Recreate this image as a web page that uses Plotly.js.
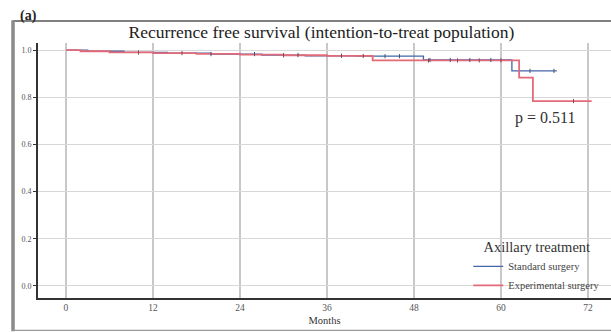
<!DOCTYPE html>
<html><head><meta charset="utf-8">
<script src="https://cdn.plot.ly/plotly-3.0.1.min.js"></script>
<style>html,body{margin:0;padding:0;background:#fff}#c{width:611px;height:332px}</style>
</head><body><div id="c"></div>
<script>
// Kaplan-Meier step data (months, survival)
const stdTimes = [0, 3, 8, 14, 20, 27, 33, 40, 49.3, 61.5, 67.7];
const stdSurv  = [1.0, 0.995, 0.99, 0.987, 0.983, 0.979, 0.976, 0.974, 0.958, 0.912, 0.912];
const expTimes = [0, 2, 6, 12, 18, 24, 30, 36, 42.3, 62.5, 64.4, 72.5];
const expSurv  = [1.0, 0.995, 0.99, 0.987, 0.984, 0.981, 0.978, 0.975, 0.956, 0.883, 0.784, 0.784];
const stdCensor = [20, 26, 32, 38, 44, 46, 50.2, 53, 55.7, 58.6, 64, 67.3];
const expCensor = [10, 16, 30, 41, 50, 54, 57, 60, 70];
const xTicks = [0, 12, 24, 36, 48, 60, 72];
const yTicks = [0.0, 0.2, 0.4, 0.6, 0.8, 1.0];
const seriesNames = ["Standard surgery", "Experimental surgery"];
const pLabel = "p = 0.511";

function stepAt(ts, vs, t){ let v = vs[0]; for(let i=0;i<ts.length;i++){ if(ts[i]<=t) v=vs[i]; } return v; }

const blue = "#4466aa", red = "#e36a78";
const serif = "Liberation Serif, Times New Roman, serif";

const traces = [
  {x: stdTimes, y: stdSurv, mode: "lines", line: {shape: "hv", color: blue, width: 1.3}, name: seriesNames[0]},
  {x: expTimes, y: expSurv, mode: "lines", line: {shape: "hv", color: red, width: 1.8}, name: seriesNames[1]},
  {x: stdCensor, y: stdCensor.map(t=>stepAt(stdTimes,stdSurv,t)), mode: "markers", showlegend: false,
   marker: {symbol: "line-ns", size: 3, line: {color: "#445577", width: 1}}},
  {x: expCensor, y: expCensor.map(t=>stepAt(expTimes,expSurv,t)), mode: "markers", showlegend: false,
   marker: {symbol: "line-ns", size: 3, line: {color: "#884455", width: 1}}}
];

const layout = {
  width: 611, height: 332,
  margin: {l: 38, r: 0, t: 43, b: 34},
  paper_bgcolor: "#fff", plot_bgcolor: "#fff",
  font: {family: serif, color: "#333"},
  title: {text: "Recurrence free survival (intention-to-treat population)", font: {size: 17.5, family: serif, color: "#222"},
          x: 0.526, xanchor: "center", y: 0.905, yanchor: "middle"},
  xaxis: {range: [-3.86, 75.17], tickvals: xTicks, ticktext: xTicks.map(String), ticks: "",
          showgrid: true, gridcolor: "#c8c8c8", gridwidth: 2.5, zeroline: false,
          showline: true, linecolor: "#333", linewidth: 2, tickfont: {size: 9.5, color: "#555"},
          title: {text: "Months", font: {size: 10.5, color: "#333"}, standoff: 4}},
  yaxis: {range: [-0.051, 1.03], tickvals: yTicks, ticktext: yTicks.map(v=>v.toFixed(1)), ticks: "outside", ticklen: 3,
          tickcolor: "#333", showgrid: true, gridcolor: "#d8d8d8", gridwidth: 1, zeroline: false,
          showline: true, linecolor: "#333", linewidth: 2, tickfont: {size: 8, color: "#555"}},
  legend: {x: 0.99, xanchor: "right", y: 0.255, yanchor: "top", bgcolor: "rgba(0,0,0,0)",
           title: {text: "Axillary treatment", font: {size: 14.5, color: "#333"}, side: "top center"},
           font: {size: 10.5, color: "#444"}, tracegroupgap: 0, itemwidth: 30},
  annotations: [
    {text: pLabel, xref: "x", yref: "y", x: 66, y: 0.71, showarrow: false, font: {size: 16, color: "#333"}},
    {text: "<b>(a)</b>", xref: "paper", yref: "paper", x: -0.035, xanchor: "left", y: 1.145, showarrow: false, font: {size: 14, color: "#222"}}
  ],
  shapes: [
    {type: "line", xref: "paper", yref: "paper", x0: -0.0436, x1: 1.0, y0: 1.086, y1: 1.086, line: {color: "#555", width: 1.5}},
    {type: "line", xref: "paper", yref: "paper", x0: -0.0436, x1: -0.0436, y0: 1.089, y1: -0.13, line: {color: "#8a8a8a", width: 3.5}},
    {type: "line", xref: "paper", yref: "paper", x0: -0.0436, x1: 1.0, y0: -0.127, y1: -0.127, line: {color: "#999", width: 1.2}}
  ]
};
Plotly.newPlot("c", traces, layout, {staticPlot: true, displayModeBar: false});
</script></body></html>
